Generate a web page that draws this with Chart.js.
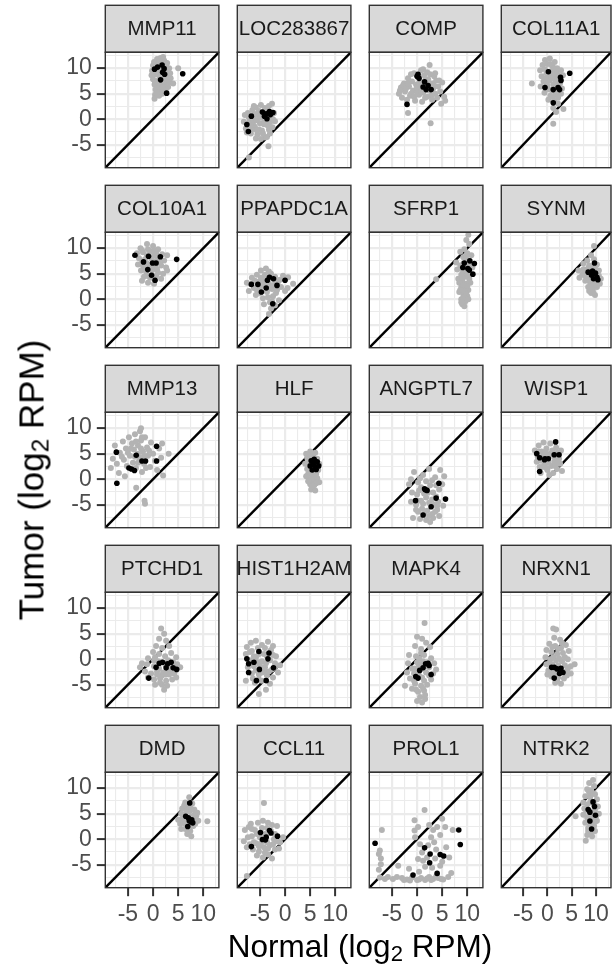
<!DOCTYPE html>
<html>
<head>
<meta charset="utf-8">
<script src="https://cdn.jsdelivr.net/npm/chart.js@4.4.1/dist/chart.umd.min.js"></script>
<style>
html, body { margin: 0; padding: 0; background: #fff; }
#wrap { position: relative; width: 615px; height: 968px; overflow: hidden; font-family: "Liberation Sans", Arial, sans-serif; }
#wrap canvas { position: absolute; left: 0; top: 0; }
.ttl { position: absolute; color: #000; line-height: 1; white-space: nowrap; }
.ttl sub { font-size: 0.7em; vertical-align: -0.2em; line-height: 0; }
#xt { font-size: 31.5px; left: 360px; top: 931px; transform: translateX(-50%); }
#yt { font-size: 35px; left: 31px; top: 480px; transform: translate(-50%, -50%) rotate(-90deg); }
</style>
</head>
<body>
<div id="wrap">
  <div class="ttl" id="xt">Normal (log<sub>2</sub> RPM)</div>
  <div class="ttl" id="yt">Tumor (log<sub>2</sub> RPM)</div>
</div>
<script>
/*-------------------------
data
--------------------------*/
var genes = ["MMP11", "LOC283867", "COMP", "COL11A1",
             "COL10A1", "PPAPDC1A", "SFRP1", "SYNM",
             "MMP13", "HLF", "ANGPTL7", "WISP1",
             "PTCHD1", "HIST1H2AM", "MAPK4", "NRXN1",
             "DMD", "CCL11", "PROL1", "NTRK2"];

var axisRange = [-9.5, 13.1];
var tickVals = [-7.5, -5, -2.5, 0, 2.5, 5, 7.5, 10, 12.5];
var majorTicks = [-5, 0, 5, 10];
var diagLine = [-9.5, 13.1];

// grey = all samples, one list per gene (same order as genes)
var greyPts = [
  // MMP11
  [[0.2,11.2],[0.8,11.8],[1.5,12.0],[2.2,11.5],[2.8,11.0],[0.0,10.5],[1.0,10.8],[2.0,10.9],[2.6,10.2],[3.2,10.0],[-0.2,9.5],[0.6,9.6],[1.4,9.4],[2.4,9.6],[3.0,9.2],[-0.3,8.6],[0.5,8.8],[1.2,8.5],[2.0,8.7],[2.8,8.4],[3.5,8.0],[0.0,7.8],[0.8,7.5],[1.8,7.8],[2.6,7.4],[3.3,7.2],[0.3,6.8],[1.2,6.6],[2.2,6.7],[3.0,6.3],[0.5,5.8],[1.4,5.6],[2.5,5.8],[0.4,4.8],[1.2,4.6],[0.3,4.0],[5.0,10.0],[4.0,7.0],
   [0.6,10.2],[1.6,10.0],[1.0,9.0],[2.2,9.2],[1.6,8.0],[0.4,7.2],[1.4,7.0],[2.4,8.2],[0.9,6.0],[1.9,6.2],[0.8,5.2],[1.8,5.0],[1.2,11.4],[2.0,12.2],[3.4,9.0]],
  // LOC283867
  [[-8.2,-0.5],[-8.0,0.8],[-7.8,-1.8],[-7.4,1.2],[-7.0,-0.2],[-6.8,-2.8],[-6.5,1.8],[-6.2,0.0],[-6.0,-1.5],[-5.8,2.3],[-5.5,-3.0],[-5.4,0.8],[-5.0,-0.8],[-4.8,2.8],[-4.6,-2.2],[-4.3,0.2],[-4.0,-3.6],[-3.8,1.8],[-3.5,-1.2],[-3.2,2.6],[-3.0,-2.8],[-2.8,0.6],[-2.5,-1.6],[-2.2,1.2],[-2.0,-0.4],[-5.8,-3.8],[-4.8,-3.9],[-3.6,-3.5],[-6.6,-2.0],[-7.6,-2.6],[-3.3,-5.3],[-7.2,-7.5],[-5.2,-2.0],[-4.2,-1.0],[-6.0,1.0],[-2.6,3.0],[-3.4,0.0],
   [-7.2,0.4],[-6.4,-0.8],[-5.6,-0.2],[-4.8,0.4],[-4.0,-0.4],[-5.2,1.6],[-4.4,1.2],[-6.8,-1.2],[-5.6,-2.2],[-4.4,-2.8],[-3.2,-2.0],[-3.0,-0.6],[-2.4,0.0],[-6.2,2.6],[-4.0,2.2]],
  // COMP
  [[-3.6,5.0],[-3.2,6.2],[-3.0,4.2],[-2.6,7.0],[-2.4,5.4],[-2.0,3.8],[-1.8,8.0],[-1.6,6.4],[-1.4,4.6],[-1.0,7.4],[-0.8,5.6],[-0.6,9.0],[-0.4,3.6],[-0.2,6.8],[0.2,8.2],[0.4,4.8],[0.6,6.0],[0.8,9.6],[1.0,7.2],[1.2,5.2],[1.4,8.6],[1.6,4.2],[1.8,6.6],[2.0,9.2],[2.2,7.8],[2.4,5.6],[2.6,8.8],[2.8,4.6],[3.0,7.0],[3.2,6.0],[3.4,8.4],[3.6,5.0],[3.8,7.6],[4.2,6.4],[4.6,5.4],[5.0,7.2],[5.4,4.4],[5.6,3.6],[2.5,10.6],[-1.8,1.2],[2.7,-0.8],[4.8,3.0],[-2.8,6.6],[0.0,5.2],[1.0,3.4],[3.0,3.8],[-1.2,8.8],[4.0,4.2],
   [-2.2,6.0],[-1.2,5.0],[0.0,6.2],[0.8,5.4],[1.6,7.6],[0.4,7.0],[2.4,6.8],[3.4,6.6],[-0.6,4.4],[2.0,4.4],[4.4,7.6],[-1.8,7.0],[1.2,9.8],[3.6,9.0],[-3.4,5.6]],
  // COL11A1
  [[-0.5,11.6],[0.5,11.9],[1.5,11.2],[-1.0,10.6],[0.0,10.8],[1.0,10.4],[2.0,10.0],[-1.5,9.6],[-0.5,9.8],[0.8,9.4],[1.8,9.2],[2.8,9.6],[-1.2,8.4],[0.2,8.6],[1.4,8.2],[2.4,8.0],[3.2,8.6],[-0.8,7.4],[0.4,7.6],[1.6,7.2],[2.6,7.0],[-1.4,6.4],[0.0,6.6],[1.0,5.6],[2.0,6.6],[3.0,6.0],[-0.6,5.2],[0.6,4.6],[1.8,4.8],[2.8,5.0],[0.2,3.8],[1.4,3.6],[2.2,3.0],[1.2,2.2],[1.8,1.4],[-3.2,7.0],[1.2,-0.9],[3.3,2.0],
   [0.6,10.8],[1.4,10.0],[-0.2,9.0],[1.0,8.8],[2.2,8.6],[-0.4,8.0],[0.8,8.0],[2.0,7.6],[-0.2,7.0],[1.2,6.8],[2.4,6.4],[0.4,5.8],[1.6,5.4],[1.0,4.4],[2.2,4.2]],
  // COL10A1
  [[-2.5,10.0],[-1.2,10.8],[0.0,10.4],[1.0,9.8],[-3.2,9.0],[-2.0,9.2],[-0.6,9.4],[0.6,9.0],[1.8,8.8],[2.8,8.6],[-2.8,8.0],[-1.6,7.8],[-0.4,8.0],[0.8,7.8],[2.2,7.6],[-3.0,6.8],[-2.0,6.6],[-0.8,6.8],[0.4,6.4],[1.6,6.6],[2.6,6.2],[-2.4,5.6],[-1.4,5.4],[-0.2,5.6],[1.0,5.2],[2.0,5.0],[-1.8,4.4],[-0.6,4.2],[0.6,4.6],[1.6,4.0],[-1.0,3.2],[0.2,3.0],[-2.2,3.6],[2.8,5.6],
   [-2.2,9.6],[-1.0,9.8],[0.2,9.6],[-1.2,8.6],[0.2,8.6],[1.4,8.0],[-2.2,7.2],[-1.2,7.0],[0.0,7.4],[1.2,7.2],[-1.6,6.0],[-0.4,6.2],[0.8,5.8],[-1.2,4.6],[0.2,4.0]],
  // PPAPDC1A
  [[-7.6,3.2],[-7.2,1.6],[-6.6,4.2],[-6.2,2.2],[-5.8,0.8],[-5.6,4.8],[-5.2,3.4],[-4.8,5.6],[-4.6,2.6],[-4.4,0.2],[-4.0,4.0],[-3.8,6.0],[-3.6,1.4],[-3.2,3.0],[-3.0,-0.6],[-2.8,5.0],[-2.6,2.0],[-2.4,0.6],[-2.0,4.4],[-1.8,1.2],[-1.4,3.4],[-1.2,-0.2],[-0.8,2.4],[-0.4,4.6],[0.0,1.6],[0.6,4.3],[0.5,2.2],[-3.2,-2.9],[-2.8,-1.8],[-5.0,1.2],[-6.8,3.0],[-4.2,-1.0],[1.6,3.0],[-2.2,3.8],
   [-6.0,3.6],[-5.2,2.2],[-4.4,3.2],[-3.8,2.8],[-3.0,2.2],[-4.0,4.8],[-3.2,5.4],[-2.2,2.8],[-1.6,1.8],[-3.4,0.4],[-2.6,-0.4],[-5.6,1.8],[-1.0,3.8],[-2.0,-1.2],[-4.8,4.2]],
  // SFRP1
  [[10.2,12.6],[9.8,11.6],[10.4,10.8],[8.6,9.3],[9.4,9.8],[10.0,9.0],[10.8,8.6],[9.2,8.2],[9.8,7.8],[10.6,6.8],[8.6,6.6],[9.4,5.4],[8.0,5.8],[8.8,4.8],[9.6,4.4],[10.4,4.0],[9.0,3.6],[8.4,3.2],[9.8,3.0],[10.6,3.2],[8.8,2.4],[9.6,2.0],[10.2,1.8],[8.4,1.4],[9.2,1.0],[10.0,0.6],[8.8,0.0],[9.6,-0.4],[9.0,-1.0],[10.4,5.2],[11.0,6.2],[3.8,3.9],[7.8,7.2],[9.6,6.4],[8.2,4.0],[9.4,-1.4],
   [9.2,7.0],[10.0,6.6],[9.0,5.8],[9.8,5.6],[10.2,4.8],[9.0,4.2],[9.2,2.8],[10.0,2.6],[8.6,1.8],[9.4,1.6],[9.8,1.0],[8.8,-0.6],[9.2,0.4],[10.2,0.0],[9.8,8.6]],
  // SYNM
  [[9.6,10.4],[9.0,8.6],[8.2,7.6],[9.6,7.8],[7.4,7.0],[8.6,6.6],[10.2,6.8],[6.4,5.6],[7.6,5.8],[8.8,6.0],[10.6,5.6],[7.2,4.8],[8.2,4.4],[9.2,4.2],[10.6,4.6],[7.8,3.6],[8.8,3.2],[9.8,3.4],[10.8,3.0],[8.4,2.4],[9.4,2.2],[10.2,2.4],[9.0,1.2],[9.8,0.8],[6.6,4.2],[8.0,5.2],[11.0,4.0],
   [8.4,6.0],[9.4,6.4],[9.8,6.0],[8.8,5.4],[10.0,5.6],[8.4,5.0],[7.8,4.6],[8.6,3.8],[9.6,3.8],[10.0,2.8],[9.0,2.6],[8.6,1.6],[9.4,1.4],[10.4,3.6],[7.4,5.8]],
  // MMP13
  [[-8.4,2.2],[-8.0,4.0],[-7.6,6.6],[-7.2,3.0],[-6.8,1.2],[-6.6,5.2],[-6.0,7.4],[-5.8,3.8],[-5.4,6.0],[-5.2,2.6],[-4.8,8.2],[-4.6,4.6],[-4.2,7.0],[-4.0,3.2],[-3.8,5.8],[-3.6,8.8],[-3.4,2.2],[-3.0,6.6],[-2.8,4.2],[-2.6,9.4],[-2.4,7.6],[-2.2,1.4],[-2.0,5.4],[-1.8,3.0],[-1.6,8.2],[-1.2,6.2],[-1.0,4.6],[-0.6,2.4],[-0.4,7.2],[0.0,5.0],[0.4,3.6],[0.8,1.8],[1.2,6.0],[1.6,4.2],[1.8,7.0],[2.0,0.7],[3.1,5.0],[-3.35,-1.7],[-1.7,-4.2],[-1.6,-4.8],[-5.6,0.6],[-2.4,10.0],
   [-5.0,5.2],[-4.4,6.0],[-3.6,4.4],[-3.0,5.0],[-2.4,6.0],[-1.8,4.6],[-3.4,7.4],[-2.2,8.2],[-3.0,3.2],[-1.4,2.2],[-6.2,4.4],[-0.8,5.6]],
  // HLF
  [[4.2,5.0],[5.0,5.4],[6.0,5.2],[4.4,4.2],[5.4,4.4],[6.4,4.0],[4.0,3.0],[4.8,3.4],[6.8,3.0],[4.4,2.0],[6.6,1.8],[4.6,1.0],[5.4,0.8],[6.2,1.0],[4.8,0.0],[5.6,-0.2],[6.4,0.2],[5.0,-1.0],[5.8,-1.2],[5.2,-2.0],[6.0,-2.2],[4.2,0.6],[5.2,1.8],[6.8,-0.6],
   [5.4,3.2],[4.6,2.6],[6.2,3.0],[5.0,1.2],[5.8,0.4],[6.0,1.4],[5.2,0.0],[6.2,-0.8],[5.4,-1.4],[4.6,-0.4],[5.6,4.8],[4.8,4.6]],
  // ANGPTL7
  [[-1.6,-1.0],[-0.6,1.4],[0.2,-0.6],[1.2,0.8],[2.4,2.0],[3.6,0.4],[4.6,1.8],[5.4,0.6],[-1.0,-2.6],[0.0,-3.0],[0.8,-1.6],[2.6,-1.2],[3.2,-2.6],[4.4,-2.0],[5.0,-1.0],[-1.2,-4.4],[-0.2,-5.0],[0.8,-4.2],[1.8,-3.6],[2.4,-4.6],[3.4,-5.0],[4.2,-4.4],[5.2,-5.2],[0.2,-6.4],[1.0,-5.8],[2.0,-6.2],[3.0,-6.8],[4.0,-6.0],[-0.8,-7.6],[0.6,-7.8],[1.8,-8.0],[3.2,-7.6],[4.4,-7.2],[2.6,-8.4],[1.4,-2.8],[3.8,-3.4],[-1.2,0.0],
   [0.6,0.2],[1.8,-0.4],[3.0,-0.2],[0.4,-2.2],[2.2,-2.6],[3.8,-1.2],[0.2,-4.2],[1.2,-4.8],[3.0,-4.0],[4.0,-5.2],[1.4,-6.8],[2.4,-7.2],[3.6,-6.4],[-0.2,-6.0]],
  // WISP1
  [[-2.6,5.6],[-2.2,3.4],[-1.8,6.6],[-1.6,2.4],[-1.2,5.4],[-0.8,7.2],[-0.6,3.0],[-0.2,6.0],[0.0,1.8],[0.2,4.6],[0.6,7.0],[0.8,2.6],[1.0,5.6],[1.4,3.4],[1.8,6.2],[2.0,2.0],[2.4,4.0],[2.8,5.6],[3.0,1.6],[-1.4,1.2],[0.4,0.8],[1.2,1.2],[-2.0,4.4],[2.6,3.0],[-0.4,4.8],
   [-1.8,5.4],[-1.0,4.4],[-0.4,5.4],[0.6,5.0],[1.4,4.4],[2.0,5.2],[-1.0,2.4],[0.2,3.2],[1.6,2.6],[-0.2,2.2],[2.2,3.4],[-1.4,3.6]],
  // PTCHD1
  [[1.6,6.0],[2.2,5.0],[1.2,4.0],[2.6,3.6],[0.6,2.6],[1.8,2.2],[3.2,2.6],[0.0,1.4],[1.2,1.0],[2.4,0.6],[3.6,1.2],[4.6,0.4],[-1.0,0.2],[0.2,-0.2],[-2.2,-0.8],[-1.2,-1.0],[4.8,-1.0],[5.4,-1.6],[-2.6,-1.6],[-1.6,-2.4],[-0.4,-2.8],[0.8,-2.4],[2.0,-2.6],[3.2,-3.0],[4.2,-2.8],[-1.0,-3.6],[0.2,-4.0],[1.4,-3.8],[2.6,-4.2],[3.8,-4.0],[1.8,-5.0],[2.8,-5.2],[2.2,-6.0],[0.4,-5.0],[4.6,-3.6],[1.0,-0.4],[3.0,-0.2],
   [0.4,0.4],[1.6,-0.6],[2.4,-1.0],[3.4,-1.4],[4.0,-0.6],[0.2,-1.4],[1.2,-1.8],[3.0,-2.0],[1.8,-3.2],[2.6,-3.0],[3.8,-2.2],[0.8,-3.0],[1.4,-4.6]],
  // HIST1H2AM
  [[-7.6,2.4],[-6.8,3.2],[-5.8,3.6],[-4.6,2.8],[-3.4,3.4],[-2.4,2.6],[-7.8,1.0],[-6.6,1.6],[-5.4,2.2],[-4.2,1.0],[-2.8,1.8],[-1.8,0.6],[-7.0,-0.2],[-5.8,0.4],[-4.6,-0.4],[-3.0,-0.2],[-2.0,-0.8],[-1.0,-1.2],[-7.4,-1.6],[-6.2,-1.4],[-4.0,-1.6],[-2.6,-2.0],[-1.4,-2.6],[-6.6,-2.8],[-5.2,-3.0],[-3.6,-3.2],[-2.4,-3.6],[-7.8,-4.2],[-6.0,-4.6],[-4.6,-4.2],[-3.0,-4.8],[-5.2,-6.8],[-3.8,-6.0],[-4.0,-2.4],[-5.0,-1.2],
   [-7.0,1.4],[-6.2,0.6],[-5.2,1.0],[-4.0,2.2],[-3.6,0.6],[-2.4,0.8],[-6.6,-0.8],[-5.4,-0.6],[-3.8,-0.8],[-5.8,-2.2],[-4.6,-2.6],[-3.2,-2.4],[-6.4,-3.8],[-5.2,-4.0],[-2.0,-1.6]],
  // MAPK4
  [[1.5,7.1],[0.0,4.4],[1.0,4.0],[1.8,3.2],[-0.4,2.6],[0.8,2.0],[2.6,2.4],[-1.6,0.8],[-0.2,0.6],[1.4,0.8],[2.8,0.2],[-1.8,-0.8],[0.0,-0.6],[1.2,-0.4],[3.4,-0.8],[-1.0,-1.8],[0.4,-1.2],[3.8,-2.0],[-2.0,-2.6],[-0.6,-2.8],[1.8,-2.6],[3.2,-2.8],[-1.4,-3.8],[1.0,-3.6],[2.8,-4.0],[-2.4,-5.2],[-0.4,-4.8],[0.8,-5.2],[2.0,-5.0],[-1.0,-5.8],[0.2,-6.4],[1.4,-6.2],[0.6,-7.4],[1.6,-7.8],[0.0,-8.2],[1.0,-8.5],[-0.6,-4.2],[2.4,-1.6],
   [0.4,0.2],[1.0,-1.0],[2.0,-0.6],[-0.4,-1.8],[1.6,-1.4],[0.0,-2.2],[2.4,-3.2],[0.4,-3.2],[1.4,-4.2],[-0.2,-6.0],[1.2,-5.8],[0.8,1.2],[1.6,-7.0]],
  // NRXN1
  [[1.2,6.0],[1.8,5.8],[1.4,4.2],[2.6,3.8],[0.4,3.0],[1.6,2.6],[2.8,2.2],[3.8,2.8],[-0.2,1.8],[0.8,1.4],[2.0,1.0],[3.2,1.2],[4.4,1.6],[-0.4,0.4],[0.6,0.0],[1.8,-0.2],[3.0,-0.4],[4.2,0.0],[-0.2,-1.0],[1.0,-1.0],[3.6,-1.2],[4.8,-1.4],[5.6,-1.0],[0.2,-2.2],[1.6,-2.6],[3.8,-2.4],[4.8,-2.8],[0.8,-3.4],[2.2,-3.6],[3.4,-3.8],[1.6,-4.6],[2.8,-4.8],[0.0,-3.0],
   [1.0,2.4],[2.2,2.0],[3.0,3.2],[1.2,0.4],[2.4,0.2],[3.6,0.4],[0.4,-0.8],[2.2,-1.2],[4.2,-1.8],[1.0,-2.4],[2.6,-2.6],[4.0,-3.2],[2.0,-4.2]],
  // DMD
  [[7.2,8.2],[6.4,7.2],[7.8,7.0],[5.8,6.0],[6.8,6.2],[8.2,5.8],[5.6,5.0],[6.2,4.8],[8.6,4.6],[5.8,4.0],[7.2,5.4],[8.4,3.8],[9.0,3.6],[5.4,3.0],[6.0,3.2],[8.0,2.6],[6.4,2.0],[7.4,1.6],[6.8,1.0],[7.6,0.6],[10.8,3.5],[5.6,2.0],[8.8,5.2],
   [6.6,5.6],[7.6,5.8],[6.2,4.0],[7.6,4.4],[8.2,4.8],[6.4,3.0],[7.0,2.8],[8.4,3.0],[7.2,2.2],[6.2,6.6],[7.4,6.4],[5.0,3.8]],
  // CCL11
  [[-4.2,7.1],[-7.6,-7.2],[-8.0,1.8],[-7.2,2.4],[-6.6,0.6],[-8.2,-0.4],[-7.6,-1.6],[-6.0,1.8],[-5.4,3.2],[-4.4,3.6],[-3.4,3.2],[-2.6,2.8],[-1.6,2.6],[-5.8,-0.8],[-5.0,0.4],[-4.0,1.0],[-2.2,0.0],[-1.0,-0.6],[-0.4,0.4],[-6.4,-2.0],[-5.2,-2.4],[-4.2,-1.6],[-3.0,-1.2],[-2.0,-2.0],[-1.2,-1.8],[-5.6,-3.2],[-4.4,-3.6],[-3.4,-3.0],[-2.6,-3.8],[-7.0,-1.0],[-3.6,-0.6],[-6.8,3.0],
   [-6.6,2.0],[-5.6,1.0],[-4.6,2.2],[-3.6,2.2],[-2.8,1.6],[-6.2,-0.6],[-4.8,-0.8],[-3.4,-1.8],[-2.4,-1.0],[-5.2,-1.4],[-4.0,-2.6],[-1.6,-0.4],[-7.4,0.4],[-2.0,1.0]],
  // PROL1
  [[-7.0,1.8],[-7.4,-2.2],[-7.6,-2.9],[-7.2,-3.8],[-7.2,-4.9],[-7.6,-6.0],[-7.4,-7.5],[-5.8,-7.4],[-4.8,-7.8],[-3.75,-5.2],[-3.0,-7.6],[-2.0,-7.9],[-1.0,-7.5],[0.0,-8.0],[0.8,-7.6],[1.6,-8.0],[2.4,-7.4],[3.2,-7.8],[4.2,-7.6],[5.2,-7.9],[6.2,-7.4],[6.8,-6.6],[-0.5,3.7],[-0.5,1.7],[-0.4,0.4],[1.5,5.7],[0.2,2.4],[2.4,2.8],[3.2,1.8],[4.0,2.4],[5.0,4.0],[5.6,2.4],[4.6,0.8],[3.4,-0.6],[7.1,1.8],[0.2,-3.9],[1.0,-2.6],[2.2,-1.2],[3.8,-2.0],[5.8,-1.6],[6.4,-3.6],[1.6,-5.4],[3.0,-5.6],[4.6,-5.2],[-1.6,-5.8],[0.4,-6.4],[2.0,-3.6],[5.0,-4.4],
   [-6.4,-7.8],[-4.0,-7.4],[-2.6,-8.0],[-1.4,-8.1],[0.4,-7.9],[2.0,-7.7],[2.8,-8.0],[3.8,-7.3],[4.8,-7.8],[1.2,-4.2],[3.6,-3.8],[0.6,-1.0],[2.8,0.4]],
  // NTRK2
  [[9.4,11.6],[8.6,11.0],[9.6,10.4],[8.2,9.8],[9.0,9.6],[9.8,8.8],[7.8,8.4],[8.8,8.2],[10.2,7.8],[7.4,7.2],[8.2,6.8],[10.4,6.4],[7.6,6.0],[9.2,5.4],[10.6,5.0],[7.4,4.8],[8.2,4.2],[9.4,4.0],[10.2,3.6],[7.8,3.2],[9.6,2.6],[8.4,2.2],[9.0,1.4],[8.2,0.8],[7.9,-0.3],[5.8,4.5],[9.8,1.6],
   [8.8,7.2],[9.6,6.8],[8.0,5.6],[9.8,5.8],[8.6,4.6],[9.4,4.6],[10.0,4.4],[8.6,3.2],[9.2,3.0],[8.8,2.4],[9.8,3.4],[8.4,1.6],[9.2,0.6],[8.6,9.2],[9.4,9.0]]
];

// black = highlighted samples
var blackPts = [
  [[0.3,9.8],[0.9,10.2],[1.8,10.6],[2.2,9.9],[1.9,9.2],[2.3,8.8],[1.5,7.7],[2.7,5.1],[5.9,8.9]],
  [[-6.7,0.6],[-7.6,-1.05],[-7.3,-2.4],[-4.5,1.4],[-3.75,1.05],[-3.1,1.5],[-2.4,1.3],[-3.6,0.1],[-4.1,0.6],[-2.9,0.9]],
  [[0.0,8.4],[0.4,8.0],[1.5,7.3],[1.2,6.3],[2.2,6.6],[2.8,5.8],[1.8,5.8],[-2.0,2.9],[0.2,8.8]],
  [[0.2,9.3],[2.7,8.2],[4.6,9.0],[-0.5,6.2],[1.2,5.8],[2.2,6.2],[2.5,5.8],[1.2,3.2],[2.8,7.6]],
  [[-3.6,8.6],[-0.9,8.4],[1.45,8.3],[-1.9,7.3],[-0.1,7.1],[0.6,7.1],[-1.05,5.8],[-0.3,4.7],[0.4,3.7],[4.7,7.8]],
  [[-6.7,2.9],[-5.4,2.9],[-4.7,1.4],[-3.75,2.2],[-3.1,4.3],[-2.3,4.0],[-3.5,3.7],[-1.6,2.7],[0.0,3.7],[-2.45,-0.9]],
  [[9.4,7.1],[10.5,7.5],[11.4,7.0],[9.1,6.2],[10.1,6.0],[10.4,5.7],[11.1,4.9]],
  [[9.7,7.1],[8.4,5.3],[9.3,5.5],[9.9,5.1],[9.1,4.7],[10.2,4.3],[9.5,4.0],[10.4,3.8]],
  [[-7.3,5.3],[-7.2,-0.8],[-3.35,4.7],[-4.8,2.2],[-3.7,1.7],[-2.2,3.55],[-1.5,3.55],[0.7,6.45],[0.7,3.55],[-4.3,2.0]],
  [[5.2,3.6],[5.8,3.9],[6.4,3.4],[6.7,2.6],[6.2,1.9],[5.4,1.8],[5.0,2.6],[5.6,2.9],[6.0,2.4]],
  [[1.5,-1.9],[2.0,-2.2],[-0.3,-4.2],[3.8,-3.7],[4.35,-0.8],[5.66,-3.9],[2.8,-5.4],[1.2,-7.0],[1.7,-2.1]],
  [[-2.2,5.0],[-1.6,4.2],[-0.6,3.8],[0.2,4.0],[1.4,4.8],[2.4,4.8],[1.7,7.3],[-1.6,1.5],[-0.5,4.0]],
  [[-0.85,-3.7],[1.25,-0.8],[1.9,-0.6],[2.9,-0.9],[3.6,-0.6],[2.6,-1.7],[4.0,-1.7],[4.7,-2.0],[0.6,-1.6]],
  [[-7.6,0.07],[-7.25,-0.9],[-6.2,-0.6],[-5.2,1.5],[-3.2,1.2],[-3.4,0.07],[-5.1,-2.0],[-5.7,-4.2],[-7.25,-2.6],[-3.75,-4.2],[-2.3,-1.7]],
  [[-0.26,-3.4],[0.53,-2.2],[1.2,-1.7],[1.7,-0.9],[2.2,-0.8],[2.8,-3.0],[0.2,-3.7],[2.4,-1.25]],
  [[0.86,-1.6],[1.4,-1.6],[2.0,-1.9],[2.8,-1.8],[3.2,-2.6],[2.5,-2.8],[1.4,-3.7]],
  [[7.3,7.1],[6.5,4.5],[7.0,4.2],[7.7,3.8],[7.5,3.4],[6.9,2.5],[7.9,3.2],[7.2,3.6]],
  [[-6.7,-1.45],[-4.9,1.3],[-4.5,-0.07],[-3.9,-0.13],[-3.75,0.4],[-3.1,1.7],[-2.8,1.2],[-1.5,0.6]],
  [[-8.35,-0.8],[1.5,-1.7],[2.6,-2.9],[4.6,-3.0],[5.3,-3.3],[2.5,-4.6],[-0.8,-7.0],[4.0,-6.7],[8.3,1.8],[8.6,-1.05]],
  [[9.4,7.3],[9.7,6.4],[8.4,5.8],[8.75,5.3],[9.9,4.7],[8.75,3.55],[9.1,2.0]]
];

/*-------------------------
layout (px)
--------------------------*/
var W = 615, H = 968;
var panelLeft = [105.3, 237.3, 369.3, 501.3];
var panelW = 113.6;
var stripH = 47;
var panelH = 115.4;
var firstTop = 52.3;   // top of the first plot area
var rowStep = 180;
var xAxisH = 60;

function isMajor(v) { return majorTicks.indexOf(v) >= 0; }

// strip + border around each facet
var facetBox = {
  id: 'facetBox',
  beforeDraw: function (chart) {
    var a = chart.chartArea, ctx = chart.ctx;
    ctx.save();
    ctx.fillStyle = '#D9D9D9';
    ctx.fillRect(a.left, a.top - stripH, a.right - a.left, stripH);
    ctx.restore();
  },
  afterDraw: function (chart, args, opts) {
    var a = chart.chartArea, ctx = chart.ctx;
    var w = a.right - a.left;
    ctx.save();
    // strip label, clipped to the strip
    ctx.beginPath();
    ctx.rect(a.left, a.top - stripH, w, stripH);
    ctx.clip();
    ctx.fillStyle = '#1A1A1A';
    ctx.font = '20.5px "Liberation Sans", Arial, sans-serif';
    ctx.textAlign = 'center';
    ctx.textBaseline = 'middle';
    ctx.fillText(opts.label, a.left + w / 2, a.top - stripH / 2 + 1);
    ctx.restore();

    ctx.save();
    ctx.strokeStyle = '#333333';
    ctx.lineWidth = 1.4;
    ctx.strokeRect(a.left, a.top - stripH, w, stripH);
    ctx.strokeRect(a.left, a.top, w, a.bottom - a.top);
    ctx.restore();
  }
};

function axisOpts(showLabels, fitFn) {
  return {
    type: 'linear',
    min: axisRange[0],
    max: axisRange[1],
    afterBuildTicks: function (s) {
      s.ticks = tickVals.map(function (v) { return { value: v }; });
    },
    afterFit: fitFn,
    border: { display: false },
    grid: {
      color: '#EBEBEB',
      lineWidth: function (c) { return c.tick && isMajor(c.tick.value) ? 2.2 : 1.1; },
      drawTicks: showLabels,
      tickLength: 8.5,
      tickWidth: 2,
      tickColor: function (c) { return c.tick && isMajor(c.tick.value) ? '#333333' : 'rgba(0,0,0,0)'; }
    },
    ticks: {
      display: showLabels,
      autoSkip: false,
      maxRotation: 0,
      minRotation: 0,
      padding: 5,
      color: '#4D4D4D',
      font: { family: '"Liberation Sans", Arial, sans-serif', size: 23 },
      callback: function (v) { return isMajor(v) ? String(v) : ''; }
    }
  };
}

var wrap = document.getElementById('wrap');

genes.forEach(function (g, i) {
  var r = Math.floor(i / 4), c = i % 4;
  var top = firstTop + r * rowStep;
  var bottom = top + panelH;
  var left = panelLeft[c];
  var firstCol = c === 0, lastRow = r === 4;

  var cv = document.createElement('canvas');
  cv.width = W; cv.height = H;
  cv.style.width = W + 'px'; cv.style.height = H + 'px';
  wrap.insertBefore(cv, wrap.firstChild);

  var pts = function (arr) { return arr.map(function (p) { return { x: p[0], y: p[1] }; }); };

  new Chart(cv.getContext('2d'), {
    type: 'scatter',
    data: {
      datasets: [{
        data: pts(blackPts[i]),
        pointRadius: 2.8,
        pointBackgroundColor: '#000000',
        pointBorderWidth: 0
      }, {
        data: pts(greyPts[i]),
        pointRadius: 3,
        pointBackgroundColor: '#B3B3B3',
        pointBorderWidth: 0
      }, {
        data: diagLine.map(function (v) { return { x: v, y: v }; }),
        showLine: true,
        borderColor: '#000000',
        borderWidth: 2.4,
        pointRadius: 0
      }]
    },
    options: {
      responsive: false,
      devicePixelRatio: 1,
      animation: false,
      events: [],
      layout: {
        padding: {
          top: top,
          left: firstCol ? 0 : left,
          right: W - (left + panelW),
          bottom: H - bottom - (lastRow ? xAxisH : 0)
        }
      },
      scales: {
        x: axisOpts(lastRow, function (s) { s.height = lastRow ? xAxisH : 0; }),
        y: axisOpts(firstCol, function (s) { s.width = firstCol ? panelLeft[0] : 0; })
      },
      plugins: {
        legend: { display: false },
        tooltip: { enabled: false },
        facetBox: { label: g }
      }
    },
    plugins: [facetBox]
  });
});
</script>
</body>
</html>
